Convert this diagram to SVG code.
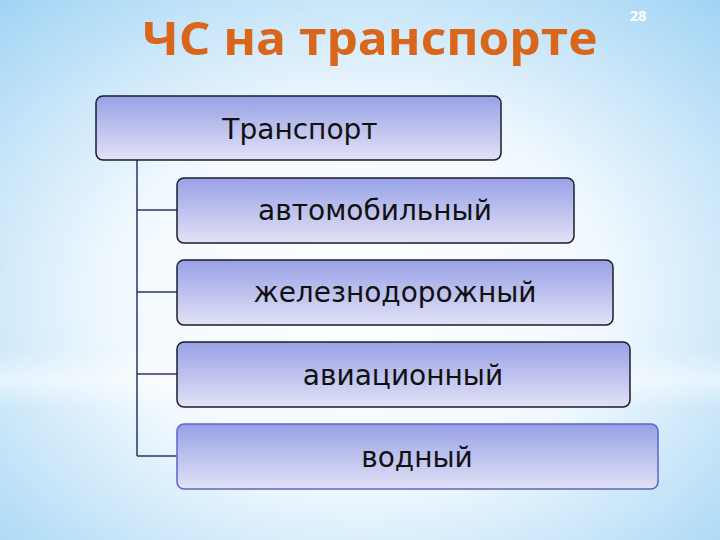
<svg xmlns="http://www.w3.org/2000/svg" width="720" height="540" viewBox="0 0 720 540">
<defs>
<radialGradient id="bg" cx="0.5" cy="0.55" r="0.75">
<stop offset="0" stop-color="#ffffff"/>
<stop offset="0.45" stop-color="#f2f9fe"/>
<stop offset="1" stop-color="#9fd3f4"/>
</radialGradient>
<linearGradient id="band" x1="0" y1="0" x2="0" y2="1">
<stop offset="0" stop-color="#ffffff" stop-opacity="0"/>
<stop offset="0.5" stop-color="#ffffff" stop-opacity="0.5"/>
<stop offset="1" stop-color="#ffffff" stop-opacity="0"/>
</linearGradient>
<linearGradient id="box" x1="0" y1="0" x2="0" y2="1">
<stop offset="0" stop-color="#98a1e6"/>
<stop offset="1" stop-color="#e2e2f6"/>
</linearGradient>
<style>
.node rect{fill:url(#box);stroke:#1c1c2c;stroke-width:1.5}
.node text{font-family:"DejaVu Sans",sans-serif;font-size:28px;fill:#111;text-anchor:middle}
.conn line{stroke:#2a3466;stroke-width:1.5}
</style>
</defs>
<rect width="720" height="540" fill="url(#bg)"/>
<rect x="0" y="350" width="720" height="60" fill="url(#band)"/>
<text x="370" y="55" font-family="'Open Sans','DejaVu Sans',sans-serif" font-weight="bold" font-size="47" fill="#d9661a" text-anchor="middle" textLength="455" lengthAdjust="spacingAndGlyphs">ЧС на транспорте</text>
<text x="638" y="21" font-family="'Open Sans',sans-serif" font-weight="bold" font-size="15" fill="#ffffff" text-anchor="middle">28</text>
<g class="conn">
<line x1="137" y1="160" x2="137" y2="456"/>
<line x1="137" y1="210" x2="177" y2="210"/>
<line x1="137" y1="292" x2="177" y2="292"/>
<line x1="137" y1="374" x2="177" y2="374"/>
<line x1="137" y1="456" x2="177" y2="456"/>
</g>
<g id="n0" class="node"><rect x="96" y="96" width="405" height="64" rx="7"/><text x="300" y="139">Транспорт</text></g>
<g id="n1" class="node"><rect x="177" y="178" width="397" height="65" rx="7"/><text x="375" y="220">автомобильный</text></g>
<g id="n2" class="node"><rect x="177" y="260" width="436" height="65" rx="7"/><text x="395" y="302">железнодорожный</text></g>
<g id="n3" class="node"><rect x="177" y="342" width="453" height="65" rx="7"/><text x="403" y="385">авиационный</text></g>
<g id="n4" class="node"><rect x="177" y="424" width="481" height="65" rx="7" style="stroke:#5b67c4"/><text x="417" y="467">водный</text></g>
</svg>
